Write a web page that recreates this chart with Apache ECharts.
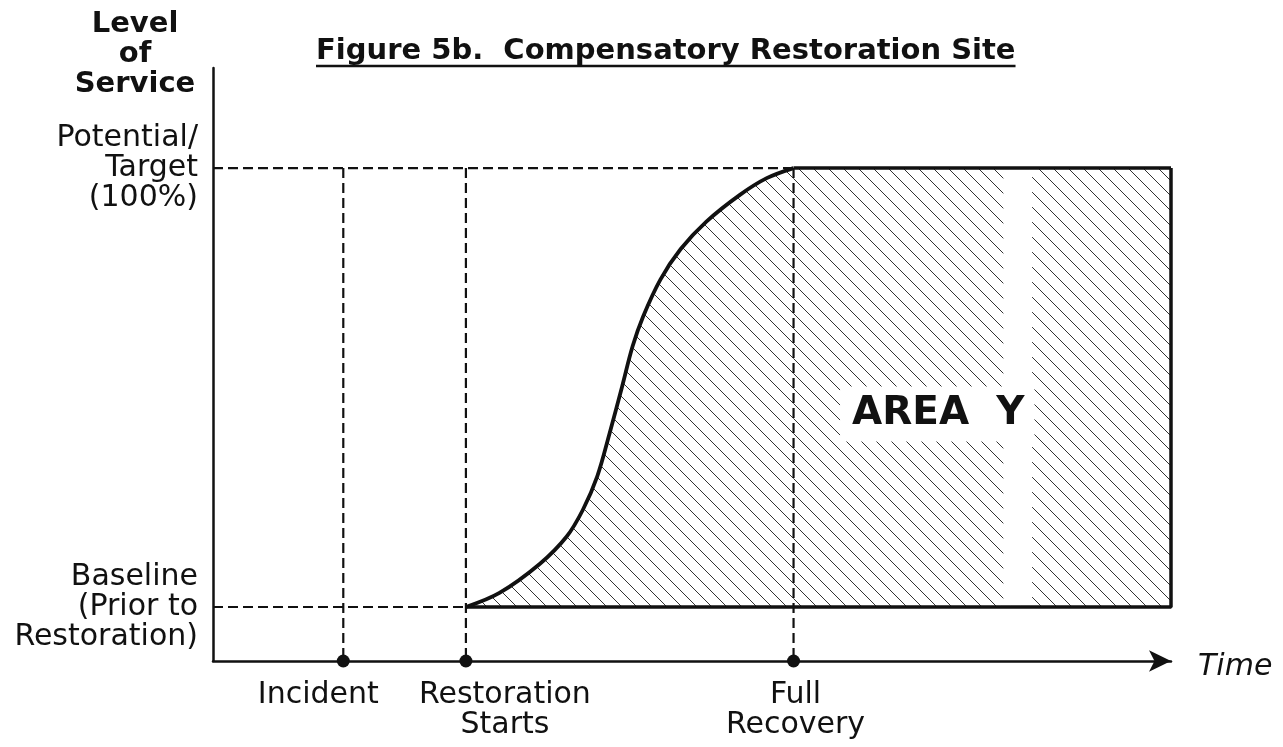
<!DOCTYPE html>
<html>
<head>
<meta charset="utf-8">
<title>Figure 5b. Compensatory Restoration Site</title>
<script src="https://cdn.jsdelivr.net/npm/echarts@6/dist/echarts.min.js"></script>
<style>
  html, body { margin: 0; padding: 0; background: #fff; }
  #chart { width: 1283px; height: 747px; }
</style>
</head>
<body>
<div id="chart"></div>
<script>
// level of service: baseline = 0, potential/target = 100
const levelTicks = [0, 100];
const levelLabels = ['Baseline\n(Prior to\nRestoration)', 'Potential/\nTarget\n(100%)'];

// time line events
const milestoneNames = ['Incident', 'Restoration\nStarts', 'Full\nRecovery'];
const milestoneTimes = [13.6, 26.4, 60.6];
const endTime = 100;

// recovery curve
const curveTimes = [26.4, 29.9, 34.1, 36.9, 38.6, 40.1, 41.4, 42.7, 43.8, 44.9, 46.7, 48.8, 51.5, 55.0, 57.8, 60.6];
const curveLevels = [0, 3.2, 9.8, 16.0, 22.1, 29.7, 39.6, 50.2, 59.4, 66.2, 74.6, 81.5, 87.8, 93.9, 97.7, 100];

const areaLabel = 'AREA  Y';
const areaLabelPos = [75.6, 44.0];

const FONT = '"DejaVu Sans", "Liberation Sans", sans-serif';
const INK = '#111';
const yMin = -12.3, yMax = 122.8;

// diagonal hatch used for the area fill
function makeHatch() {
  const s = 15;
  const c = document.createElement('canvas');
  c.width = s; c.height = s;
  const ctx = c.getContext('2d');
  ctx.strokeStyle = '#333';
  ctx.lineWidth = 1;
  ctx.beginPath();
  ctx.moveTo(-1, -1); ctx.lineTo(s + 1, s + 1);
  ctx.moveTo(-2, s - 2); ctx.lineTo(2, s + 2);
  ctx.moveTo(s - 2, -2); ctx.lineTo(s + 2, 2);
  ctx.stroke();
  return c;
}
const hatch = makeHatch();

function textWidth(font, text) {
  const ctx = document.createElement('canvas').getContext('2d');
  ctx.font = font;
  return ctx.measureText(text).width;
}

function nearestName(v, values, names) {
  let best = 0;
  values.forEach((x, i) => { if (Math.abs(x - v) < Math.abs(values[best] - v)) best = i; });
  return Math.abs(values[best] - v) < 0.5 ? names[best] : '';
}

const titleText = 'Figure 5b.  Compensatory Restoration Site';
const titleLeft = 316;
const titleW = textWidth('bold 29px "DejaVu Sans"', titleText);

const restoreT = milestoneTimes[1];
const recoverT = milestoneTimes[2];

const curveData = curveTimes.map((t, i) => [t, curveLevels[i]]);
const flatData = [[recoverT, 100], [endTime, 100]];

const dashStyle = { color: INK, width: 2.2, type: [10, 5] };
const dashed = (data) => ({
  type: 'line', data: data, symbol: 'none', silent: true,
  lineStyle: dashStyle, z: 3
});

const hatchArea = { origin: 0, opacity: 1, color: { image: hatch, repeat: 'repeat' } };
// area-only piece of the plateau (the scan leaves a blank strip around x = 82.5 .. 85.5)
const plateauArea = (from, to) => ({
  type: 'line',
  data: [[from, 100], [to, 100]],
  symbol: 'none',
  silent: true,
  lineStyle: { width: 0, opacity: 0 },
  areaStyle: hatchArea,
  z: 1
});

// x label nudges, as set in the original figure
const labelShift = [[-25, 0], [39, 0], [2, 0]];

const chart = echarts.init(document.getElementById('chart'));
chart.setOption({
  animation: false,
  backgroundColor: '#fff',
  title: {
    text: titleText,
    left: titleLeft,
    top: 37,
    padding: 0,
    textStyle: { fontFamily: FONT, fontWeight: 'bold', fontSize: 29, color: INK }
  },
  graphic: [
    {
      type: 'line',
      shape: { x1: titleLeft, y1: 66, x2: titleLeft + titleW, y2: 66 },
      style: { stroke: INK, lineWidth: 2.5 }
    },
    {
      type: 'text',
      x: 135, y: 9,
      style: {
        text: 'Level\nof\nService',
        font: 'bold 29px ' + FONT,
        fill: INK,
        align: 'center',
        verticalAlign: 'top',
        lineHeight: 30
      }
    }
  ],
  grid: { left: 213, right: 112, top: 68, bottom: 86, containLabel: false, outerBoundsMode: 'none' },
  xAxis: {
    type: 'value',
    min: 0,
    max: endTime,
    name: 'Time',
    nameLocation: 'end',
    nameGap: 27,
    nameTextStyle: {
      fontFamily: FONT, fontStyle: 'italic', fontSize: 30, color: INK,
      verticalAlign: 'top', lineHeight: 12
    },
    axisLine: {
      show: true,
      onZero: false,
      symbol: ['none', 'arrow'],
      symbolSize: [16, 22],
      lineStyle: { color: INK, width: 2.5 }
    },
    axisTick: { show: false },
    splitLine: { show: false },
    axisLabel: { show: false }
  },
  yAxis: {
    type: 'value',
    min: yMin,
    max: yMax,
    axisLine: { show: true, onZero: false, lineStyle: { color: INK, width: 2.5 } },
    axisTick: { show: false },
    splitLine: { show: false },
    axisLabel: {
      customValues: levelTicks,
      formatter: (v) => nearestName(v, levelTicks, levelLabels),
      fontFamily: FONT,
      fontSize: 30,
      lineHeight: 30,
      color: INK,
      margin: 15,
      align: 'right'
    }
  },
  series: [
    // recovery curve + hatched area Y
    {
      type: 'line',
      data: curveData,
      symbol: 'none',
      smooth: 0.35,
      lineStyle: { color: INK, width: 3.8 },
      areaStyle: hatchArea,
      z: 2
    },
    plateauArea(recoverT, 82.5),
    plateauArea(85.5, endTime),
    // full recovery plateau
    {
      type: 'line',
      data: flatData,
      symbol: 'none',
      lineStyle: { color: INK, width: 3.5 },
      z: 4
    },
    // baseline after restoration and closing edge at the end of the period
    {
      type: 'line',
      data: [[restoreT, 0], [endTime, 0], [endTime, 100]],
      symbol: 'none',
      lineStyle: { color: INK, width: 3.5 },
      z: 4
    },
    // guide lines
    dashed([[0, 100], [recoverT, 100]]),
    dashed([[0, 0], [restoreT, 0]]),
    ...milestoneTimes.map((t) => dashed([[t, 100], [t, yMin]])),
    // event dots on the time axis, with their names
    {
      type: 'scatter',
      data: milestoneTimes.map((t, i) => ({
        value: [t, yMin],
        name: milestoneNames[i],
        label: { offset: labelShift[i] }
      })),
      symbol: 'circle',
      symbolSize: 13,
      itemStyle: { color: INK, opacity: 1 },
      label: {
        show: true,
        position: 'bottom',
        distance: 13,
        formatter: (p) => p.name,
        fontFamily: FONT,
        fontSize: 30,
        lineHeight: 30,
        color: INK
      },
      clip: false,
      z: 6
    },
    // area label
    {
      type: 'scatter',
      data: [areaLabelPos],
      symbolSize: 1,
      itemStyle: { color: '#fff', opacity: 1 },
      label: {
        show: true,
        position: 'inside',
        formatter: areaLabel,
        fontFamily: FONT,
        fontWeight: 'bold',
        fontSize: 39,
        color: INK,
        backgroundColor: '#fff',
        padding: [8, 10, 8, 12]
      },
      z: 5
    }
  ]
});
</script>
</body>
</html>
